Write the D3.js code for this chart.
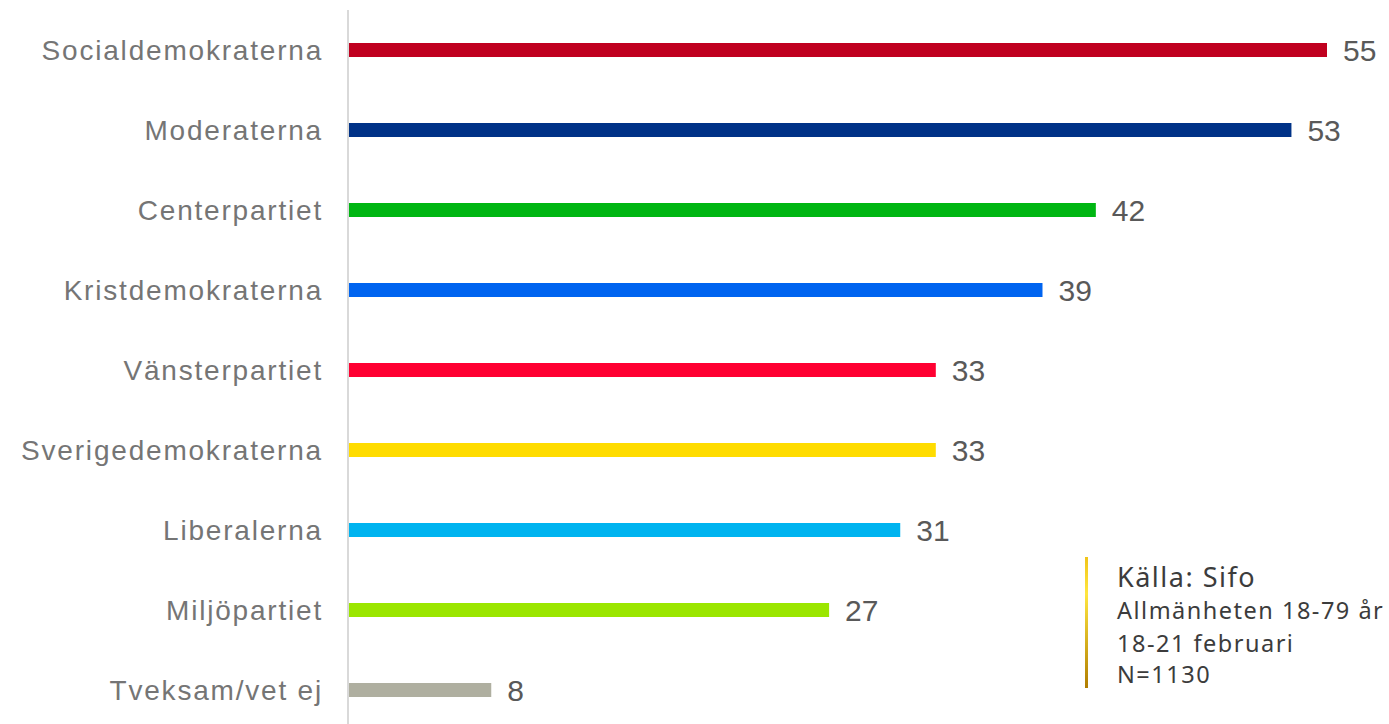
<!DOCTYPE html>
<html>
<head>
<meta charset="utf-8">
<script src="https://cdn.jsdelivr.net/npm/d3@7"></script>
<style>
  body { margin: 0; background: #fff; }
  svg { display: block; }
</style>
</head>
<body>
<svg id="chart" width="1389" height="724"></svg>
<script>
const parties = ["Socialdemokraterna", "Moderaterna", "Centerpartiet", "Kristdemokraterna",
  "Vänsterpartiet", "Sverigedemokraterna", "Liberalerna", "Miljöpartiet", "Tveksam/vet ej"];
const values = [55, 53, 42, 39, 33, 33, 31, 27, 8];
const colors = ["#c0001f", "#003287", "#00b612", "#0064f0", "#ff0032",
  "#ffdc00", "#00b4f0", "#9be600", "#afafa0"];
const sourceLines = ["Källa: Sifo", "Allmänheten 18-79 år", "18-21 februari", "N=1130"];

const svg = d3.select("#chart");
const axisX = 348;
const labelFont = "'Liberation Sans', Arial, sans-serif";

const x = d3.scaleLinear().domain([0, 55]).range([axisX + 1, 1327]);
const y = d3.scaleBand().domain(parties).range([10, 730]).paddingInner(0).paddingOuter(0);
const barH = 14;

// vertical axis line
svg.append("line")
  .attr("x1", axisX).attr("x2", axisX)
  .attr("y1", 10).attr("y2", 724)
  .attr("stroke", "#d9d9d9").attr("stroke-width", 2);

parties.forEach((p, i) => {
  const cy = y(p) + y.bandwidth() / 2;
  svg.append("rect")
    .attr("x", x(0))
    .attr("y", cy - barH / 2)
    .attr("width", x(values[i]) - x(0))
    .attr("height", barH)
    .attr("fill", colors[i]);

  // category label (letter-spacing leaves a trailing gap, so shift right)
  svg.append("text")
    .attr("x", 323)
    .attr("y", cy + 10)
    .attr("text-anchor", "end")
    .style("font-family", labelFont)
    .style("font-size", "28px")
    .style("letter-spacing", "1.8px")
    .attr("fill", "#757575")
    .text(p);

  svg.append("text")
    .attr("x", x(values[i]) + 16)
    .attr("y", cy + 11)
    .style("font-family", labelFont)
    .style("font-size", "30px")
    .attr("fill", "#595959")
    .text(values[i]);
});

// source box
const grad = svg.append("defs").append("linearGradient")
  .attr("id", "gold").attr("x1", 0).attr("x2", 0).attr("y1", 0).attr("y2", 1);
grad.append("stop").attr("offset", "0%").attr("stop-color", "#f0c419");
grad.append("stop").attr("offset", "28%").attr("stop-color", "#ffe640");
grad.append("stop").attr("offset", "100%").attr("stop-color", "#b07d00");

svg.append("rect")
  .attr("x", 1085).attr("y", 557)
  .attr("width", 3).attr("height", 131)
  .attr("fill", "url(#gold)");

const srcY = [587, 619, 652, 683];
sourceLines.forEach((t, i) => {
  svg.append("text")
    .attr("x", 1117)
    .attr("y", srcY[i])
    .style("font-family", "'Noto Sans', sans-serif")
    .style("font-size", i === 0 ? "27px" : "23.5px")
    .style("letter-spacing", "1.5px")
    .attr("fill", "#3c3c3c")
    .text(t);
});
</script>
</body>
</html>
